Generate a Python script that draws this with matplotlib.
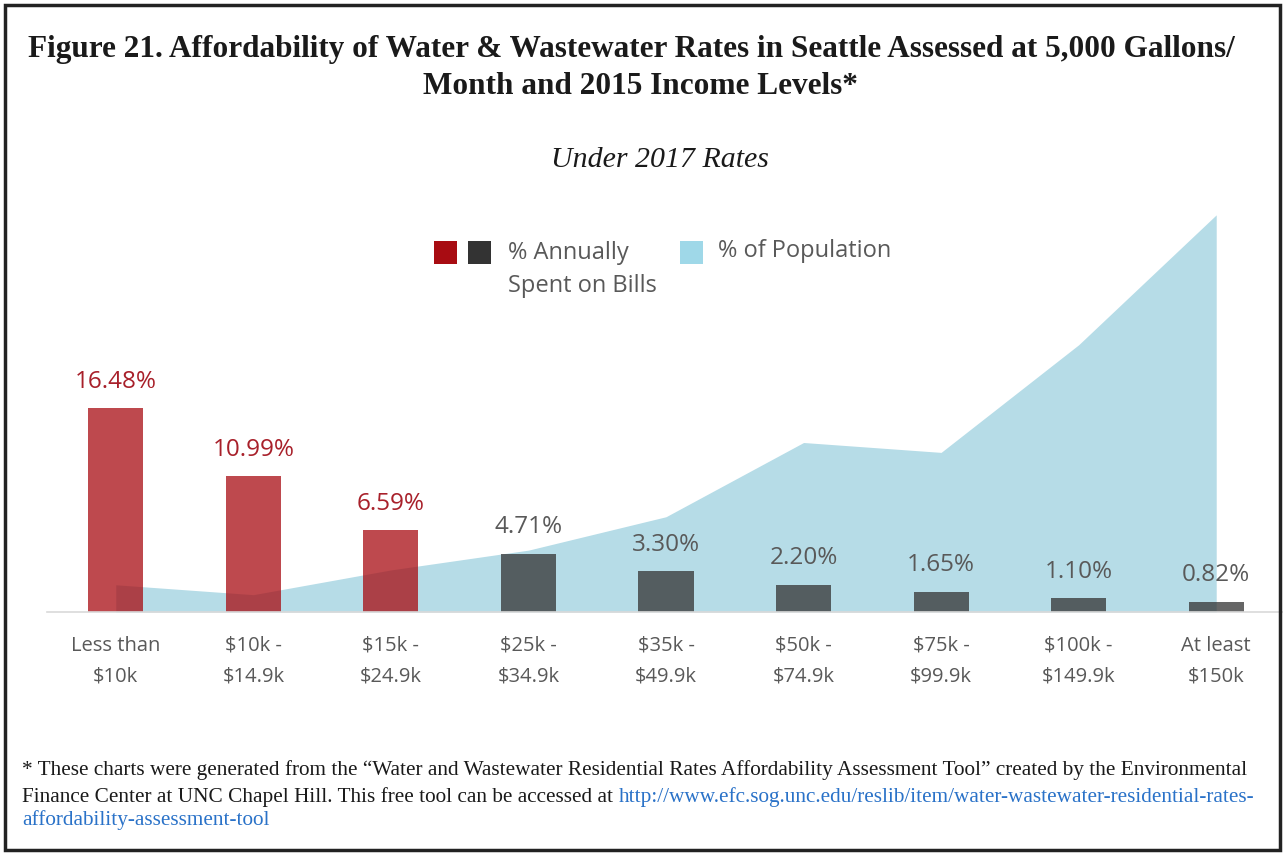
import matplotlib.pyplot as plt
from matplotlib.patches import Rectangle

categories = ["Less than\n$10k", "$10k -\n$14.9k", "$15k -\n$24.9k", "$25k -\n$34.9k", "$35k -\n$49.9k",
              "$50k -\n$74.9k", "$75k -\n$99.9k", "$100k -\n$149.9k", "At least\n$150k"]
pct_spent = [16.48, 10.99, 6.59, 4.71, 3.30, 2.20, 1.65, 1.10, 0.82]
pct_population = [2.2, 1.4, 3.4, 5.0, 7.7, 13.7, 12.9, 21.6, 32.1]
red_count = 3

RED = "#a80c12"
DARK = "#333333"
BLUE = "#a9d6e3"
GRAY = "#595959"
SANS = ["Open Sans", "DejaVu Sans"]
SERIF = ["Liberation Serif", "DejaVu Serif"]

fig = plt.figure(figsize=(12.83, 8.55), dpi=100)
W, H = 1283, 855


def fx(px):
    return px / W


def fy(py):
    return 1 - py / H


# frame around the whole figure
fig.patches.append(Rectangle((fx(5), fy(850)), fx(1275), (845) / H, transform=fig.transFigure,
                             fill=False, edgecolor="#222222", linewidth=2.5))

fig.text(fx(631), fy(50), "Figure 21. Affordability of Water & Wastewater Rates in Seattle Assessed at 5,000 Gallons/",
         ha="center", va="center", fontsize=22.5, fontweight="bold", family=SERIF, color="#1a1a1a")
fig.text(fx(640), fy(87), "Month and 2015 Income Levels*",
         ha="center", va="center", fontsize=22.5, fontweight="bold", family=SERIF, color="#1a1a1a")
fig.text(fx(660), fy(160), "Under 2017 Rates", ha="center", va="center", fontsize=21.5,
         style="italic", family=SERIF, color="#1a1a1a")

ax = fig.add_axes([fx(47), fy(612), fx(1238), 412 / H])
x = list(range(len(categories)))
ax.fill_between(x, pct_population, 0, color=BLUE, alpha=0.85, linewidth=0, zorder=1)
colors = [RED if i < red_count else DARK for i in x]
ax.bar(x, pct_spent, width=0.4, color=colors, alpha=0.75, zorder=2)
for i, v in enumerate(pct_spent):
    ax.annotate(f"{v:.2f}%", (i, v), xytext=(0, 19), textcoords="offset points",
                ha="center", va="center", fontsize=17.5, family=SANS,
                color="#a8202a" if i < red_count else GRAY, zorder=3)
ax.set_xlim(-0.5, 8.5)
ax.set_ylim(0, 33.3)
ax.set_xticks(x)
ax.set_xticklabels(categories, fontsize=14.5, family=SANS, color=GRAY, linespacing=1.7)
ax.tick_params(axis="x", length=0, pad=17)
ax.set_yticks([])
for side in ["left", "right", "top"]:
    ax.spines[side].set_visible(False)
ax.spines["bottom"].set_color("#d9d9d9")
ax.spines["bottom"].set_linewidth(1.2)
ax.patch.set_alpha(0)

# legend drawn by hand to match the two-square layout
for left, col in [(434, RED), (468, DARK), (680, "#9fd8e8")]:
    fig.patches.append(Rectangle((fx(left), fy(264)), fx(23), 23 / H, transform=fig.transFigure,
                                 color=col, linewidth=0))
fig.text(fx(508), fy(253), "% Annually", ha="left", va="center", fontsize=17, family=SANS, color=GRAY)
fig.text(fx(508), fy(286), "Spent on Bills", ha="left", va="center", fontsize=17, family=SANS, color=GRAY)
fig.text(fx(718), fy(251), "% of Population", ha="left", va="center", fontsize=17, family=SANS, color=GRAY)

# footnote with link colored text
fn_size = 15.3
fig.text(fx(22), fy(770), "* These charts were generated from the \u201cWater and Wastewater Residential Rates "
         "Affordability Assessment Tool\u201d created by the Environmental",
         ha="left", va="center", fontsize=fn_size, family=SERIF, color="#1a1a1a")
t2 = fig.text(fx(22), fy(797), "Finance Center at UNC Chapel Hill. This free tool can be accessed at ",
              ha="left", va="center", fontsize=fn_size, family=SERIF, color="#1a1a1a")
renderer = fig.canvas.get_renderer()
bb = t2.get_window_extent(renderer)
fig.text(bb.x1 / W, fy(797), "http://www.efc.sog.unc.edu/reslib/item/water-wastewater-residential-rates-",
         ha="left", va="center", fontsize=fn_size, family=SERIF, color="#2a72c8")
fig.text(fx(22), fy(820), "affordability-assessment-tool",
         ha="left", va="center", fontsize=fn_size, family=SERIF, color="#2a72c8")

fig.savefig("out.png", dpi=100)
